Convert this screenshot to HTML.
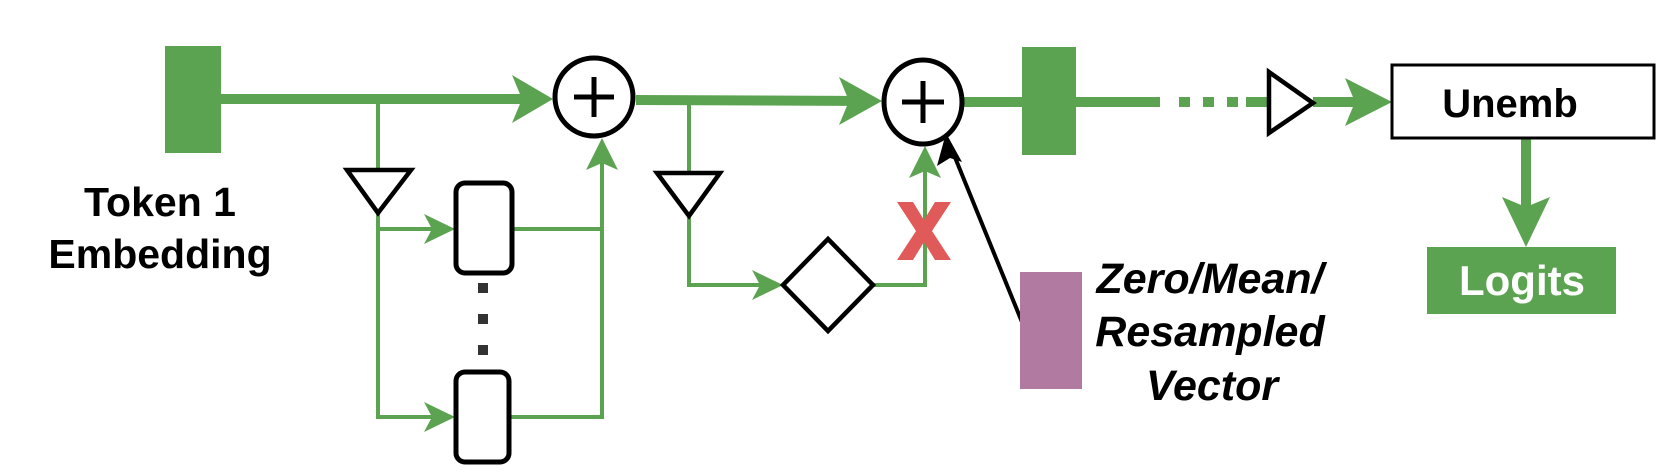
<!DOCTYPE html>
<html><head><meta charset="utf-8"><style>
html,body{margin:0;padding:0;background:#fff;}
svg{display:block;}
text{font-family:"Liberation Sans",Arial,sans-serif;font-weight:bold;}
</style></head><body>
<svg width="1662" height="472" viewBox="0 0 1662 472" xmlns="http://www.w3.org/2000/svg">
<g fill="#5ba350" stroke="none">
  <rect x="165" y="46" width="56" height="107"/>
  <rect x="1022" y="47" width="54" height="108"/>
  <rect x="1427" y="247" width="189" height="67"/>
</g>
<g stroke="#5ba350" fill="none">
  <line x1="221" y1="99" x2="540" y2="99" stroke-width="10"/>
  <line x1="636" y1="100" x2="870" y2="101" stroke-width="10"/>
  <line x1="963" y1="102" x2="1022" y2="102" stroke-width="10"/>
  <line x1="1076" y1="102" x2="1160" y2="102" stroke-width="10"/>
  <line x1="1179" y1="102" x2="1190" y2="102" stroke-width="10"/>
  <line x1="1203" y1="102" x2="1214" y2="102" stroke-width="10"/>
  <line x1="1227" y1="102" x2="1238" y2="102" stroke-width="10"/>
  <line x1="1246" y1="102" x2="1269" y2="102" stroke-width="10"/>
  <line x1="1313" y1="102" x2="1360" y2="102" stroke-width="10"/>
  <line x1="1526" y1="138" x2="1526" y2="215" stroke-width="10"/>
  <polyline points="378,99 378,170" stroke-width="4"/>
  <polyline points="378,213 378,417 440,417" stroke-width="4"/>
  <polyline points="378,229 440,229" stroke-width="4"/>
  <polyline points="512,229 602,229" stroke-width="4"/>
  <polyline points="509,417 602,417 602,150" stroke-width="4"/>
  <polyline points="689,101 689,173" stroke-width="4"/>
  <polyline points="689,216 689,285 768,285" stroke-width="4"/>
  <polyline points="873,285 925,285 925,160" stroke-width="4"/>
</g>
<g fill="#5ba350" stroke="none">
  <polygon points="553,99 512,75 522,99 512,123"/>
  <polygon points="882,101 839,77 849,101 839,125"/>
  <polygon points="1392,102 1345,78 1355,102 1345,126"/>
  <polygon points="1526,247 1502,197 1526,207 1550,197"/>
  <polygon points="455,229 424,214 432,229 424,244"/>
  <polygon points="455,417 424,402 432,417 424,432"/>
  <polygon points="602,138 586,170 602,163 618,170"/>
  <polygon points="783,285 752,270 760,285 752,300"/>
  <polygon points="925,146 909,178 925,171 941,178"/>
</g>
<g stroke="#000" stroke-width="5" fill="none">
  <ellipse cx="594" cy="97" rx="39" ry="39"/>
  <line x1="574" y1="97" x2="614" y2="97"/>
  <line x1="594" y1="77" x2="594" y2="117"/>
  <ellipse cx="923" cy="102" rx="39" ry="42"/>
  <line x1="902" y1="102" x2="944" y2="102"/>
  <line x1="923" y1="81" x2="923" y2="123"/>
  <polygon points="347,170 411,170 378,213" stroke-width="4.5"/>
  <polygon points="657,173 720,173 689,216" stroke-width="4.5"/>
  <polygon points="1269,72 1269,133 1313,103" stroke-width="4.5"/>
  <polygon points="828,239 873,285 828,331 783,285" stroke-width="4.5"/>
  <rect x="456" y="183" width="56" height="90" rx="9" stroke-width="5"/>
  <rect x="456" y="372" width="53" height="90" rx="9" stroke-width="5"/>
  <rect x="1392" y="65" width="262" height="73" stroke-width="3"/>
  <line x1="1024" y1="327" x2="952" y2="150" stroke-width="4"/>
</g>
<polygon points="946,133 937,166 950,158 962,162" fill="#000"/>
<g fill="#333">
  <rect x="478" y="283" width="10" height="10"/>
  <rect x="478" y="314" width="10" height="10"/>
  <rect x="478" y="345" width="10" height="10"/>
</g>
<polygon points="897,202 913,202 924,220 935,202 951,202 932,231 951,260 935,260 924,242 913,260 897,260 916,231" fill="#e05a5a"/>
<rect x="1020" y="272" width="62" height="117" fill="#b07aa1"/>
<text x="160" y="216" font-size="41" text-anchor="middle">Token 1</text>
<text x="160" y="268" font-size="41" text-anchor="middle">Embedding</text>
<g font-size="43" font-style="italic" text-anchor="middle">
  <text x="1210" y="293">Zero/Mean/</text>
  <text x="1210" y="346">Resampled</text>
  <text x="1212" y="400">Vector</text>
</g>
<text x="1510" y="117" font-size="40" text-anchor="middle">Unemb</text>
<text x="1522" y="295" font-size="42" text-anchor="middle" fill="#fff">Logits</text>
</svg>
</body></html>
